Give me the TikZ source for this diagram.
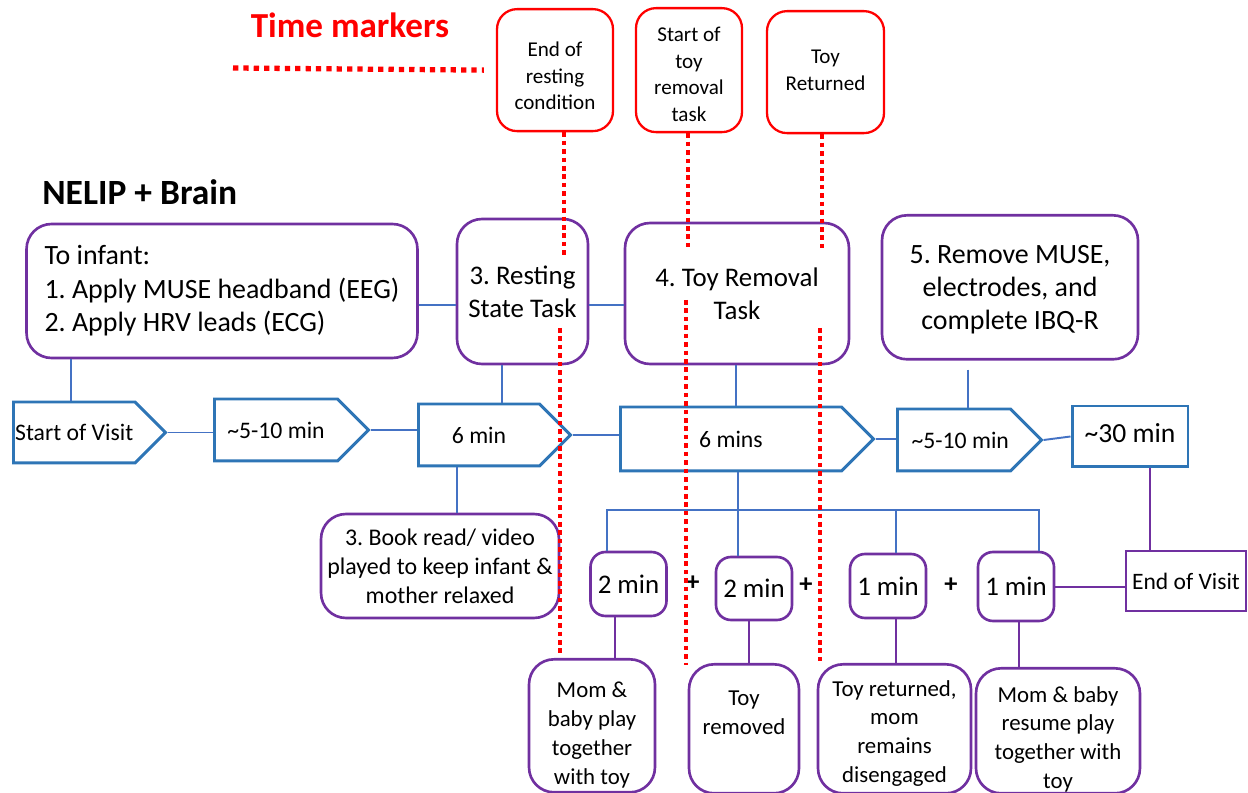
\documentclass[tikz,border=0pt]{standalone}
\usepackage{fontspec}
\setmainfont{Carlito}
\usepackage{xcolor}
\usetikzlibrary{shapes,shapes.symbols,positioning,calc}

\definecolor{stageblue}{RGB}{46,117,182}
\definecolor{linkblue}{RGB}{68,114,196}
\definecolor{taskpurple}{RGB}{112,48,160}
\definecolor{markred}{RGB}{255,0,0}

\frenchspacing
\newcommand{\fsz}[2]{\fontsize{#1}{#2}\selectfont}
% width, height, top gap, text
\newcommand{\droptext}[4]{\parbox[c][#2][t]{#1}{\centering\vspace*{#3}#4}}

\begin{document}
\begin{tikzpicture}[x=0.02cm, y=-0.02cm, >=stealth,
    stage/.style={draw=stageblue, line width=1.7pt, signal, signal to=east, signal from=nowhere, signal pointer angle=90, anchor=west, inner sep=0pt, font=\fsz{13.5}{16}},
    task/.style={draw=taskpurple, line width=1.5pt, rectangle, rounded corners=0.5cm, align=center, inner sep=0pt, font=\fsz{15.3}{18.6}},
    slot/.style={draw=taskpurple, line width=1.5pt, rectangle, rounded corners=0.3cm, inner sep=0pt, minimum width=1.52cm, font=\fsz{15.3}{18}},
    drop/.style={draw=taskpurple, line width=1.5pt, rectangle, rounded corners=0.5cm, anchor=north, inner sep=0pt, font=\fsz{13}{16.4}},
    marker/.style={draw=markred, line width=1.3pt, rectangle, rounded corners=0.4cm, anchor=north, inner sep=0pt, font=\fsz{12}{15.1}},
    bline/.style={draw=linkblue, line width=1.1pt},
    pline/.style={draw=taskpurple, line width=1.5pt},
    mdots/.style={draw=markred, line width=2.6pt, dash pattern=on 2.6pt off 2.2pt},
    plus/.style={font=\fsz{15}{18}\bfseries, inner sep=0pt}]
    \useasboundingbox (0,0) rectangle (1248,793);
    \clip (0,0) rectangle (1248,793);

    % headings
    \node [anchor=base, inner sep=0pt, text=markred, font=\fsz{20}{24}\bfseries] (tmtitle) at (350,38) {Time markers};
    \node [anchor=base west, inner sep=0pt, font=\fsz{20.2}{24}\bfseries] (title) at (42,205) {NELIP + Brain};

    % time markers
    \node [marker] (m1) at (555,8) {\droptext{2.32cm}{2.44cm}{0.66cm}{End of\\resting\\condition}};
    \node [marker] (m2) at (689,7) {\droptext{2.12cm}{2.48cm}{0.38cm}{Start of\\toy\\removal\\task}};
    \node [marker] (m3) at (825.5,10) {\droptext{2.34cm}{2.44cm}{0.78cm}{Toy\\Returned}};

    % tasks
    \node [task, align=left, minimum width=7.82cm, minimum height=2.68cm, font=\fsz{15.9}{19}] (infant) at (222,291) {To infant:\\1. Apply MUSE headband (EEG)\\2. Apply HRV leads (ECG)};
    \node [task, minimum width=2.62cm, minimum height=2.9cm] (rest) at (522.5,291.5) {3. Resting\\State Task};
    \node [task, minimum width=4.48cm, minimum height=2.82cm] (toyrem) at (737,293.5) {4. Toy Removal\\Task};
    \node [task, anchor=north, font=\fsz{15.9}{18.7}] (rem5) at (1010,214) {\droptext{5.12cm}{2.88cm}{0.6cm}{5. Remove MUSE,\\electrodes, and\\complete IBQ-R}};

    % timeline
    \node [stage, minimum width=3.04cm, minimum height=1.22cm] (p1) at (12,432.5) {Start of Visit};
    \node [stage, minimum width=3.08cm, minimum height=1.24cm] (p2) at (213,430) {\textasciitilde 5-10 min};
    \node [stage, minimum width=3.04cm, minimum height=1.24cm] (p3) at (417,435) {6 min};
    \node [stage, minimum width=5.06cm, minimum height=1.28cm] (p4) at (619,439) {6 mins};
    \node [stage, minimum width=2.88cm, minimum height=1.24cm] (p5) at (896,440) {\hspace*{0.25cm}\textasciitilde 5-10 min};
    \node [draw=stageblue, line width=1.7pt, rectangle, inner sep=0pt, minimum width=2.32cm, minimum height=1.22cm, font=\fsz{15.7}{18}] (r30) at (1130,436.5) {\raisebox{0.12cm}{\textasciitilde 30 min}};

    % sub-steps
    \node [task, minimum width=4.76cm, minimum height=2.08cm, font=\fsz{13.6}{16.4}] (book) at (440,566) {3. Book read/ video\\played to keep infant \&\\mother relaxed};
    \node [slot, minimum height=1.28cm] (two1) at (628.5,584) {2 min};
    \node [slot, minimum height=1.26cm] (two2) at (754,588.5) {2 min};
    \node [slot, minimum height=1.28cm] (one1) at (888,586) {1 min};
    \node [slot, minimum height=1.38cm] (one2) at (1016,586.5) {1 min};
    \node [plus] (plus1) at (693,583) {+};
    \node [plus] (plus2) at (806,585) {+};
    \node [plus] (plus3) at (951,585) {+};
    \node [draw=taskpurple, line width=1.5pt, rectangle, inner sep=0pt, minimum width=2.4cm, minimum height=1.2cm, font=\fsz{13.4}{16}] (endv) at (1186,581) {End of Visit};

    \node [drop] (mom) at (592,658) {\droptext{2.52cm}{2.66cm}{0.46cm}{Mom \&\\baby play\\together\\with toy}};
    \node [drop] (toyout) at (744,663) {\droptext{2.2cm}{2.58cm}{0.54cm}{Toy\\removed}};
    \node [drop] (toyret) at (894.5,663) {\droptext{3.06cm}{2.58cm}{0.32cm}{Toy returned,\\mom\\remains\\disengaged}};
    \node [drop] (resume) at (1058,667) {\droptext{3.28cm}{2.5cm}{0.36cm}{Mom \& baby\\resume play\\together with\\toy}};

    % blue links
    \draw [bline] (infant.east |- 0,305) -- (rest.west |- 0,305);
    \draw [bline] (rest.east |- 0,305) -- (toyrem.west |- 0,305);
    \draw [bline] (infant.south -| 71,0) -- (p1.north -| 71,0);
    \draw [bline] (rest.south -| 502,0) -- (p3.north -| 502,0);
    \draw [bline] (toyrem.south -| 736,0) -- (p4.north -| 736,0);
    \draw [bline, shorten <=0.18cm] (rem5.south -| 968,0) -- (p5.north -| 968,0);
    \draw [bline] (p1.east) -- (p2.west |- p1.east);
    \draw [bline] (p2.east) -- (p3.west |- p2.east);
    \draw [bline] (p3.east) -- (p4.west |- p3.east);
    \draw [bline] (p4.east) -- (p5.west |- p4.east);
    \draw [bline] (p5.east) -- (r30.west);
    \draw [bline] (p3.south -| 457,0) -- (book.north -| 457,0);
    \coordinate (brkL) at (607,510);
    \coordinate (brkR) at (1039,510);
    \draw [bline] (two1.north -| brkL) |- (brkR) -- (one2.north -| brkR);
    \draw [bline] (p4.south -| 738,0) -- (two2.north -| 738,0);
    \draw [bline] (one1.north -| 896,0) -- (brkL -| 896,0);

    % purple links
    \draw [pline] (two1.south -| 615,0) -- (mom.north -| 615,0);
    \draw [pline] (two2.south -| 749,0) -- (toyout.north -| 749,0);
    \draw [pline] (one1.south -| 896,0) -- (toyret.north -| 896,0);
    \draw [pline] (one2.south -| 1019,0) -- (resume.north -| 1019,0);
    \draw [pline] (one2.east |- 0,587) -- (endv.west |- 0,587);
    \draw [pline] (r30.south -| 1150,0) -- (endv.north -| 1150,0);

    % marker lines
    \draw [mdots, line width=3pt, dash pattern=on 3pt off 2.9pt] (233,68) -- ($(m1.west)+(-12,0)$);
    \draw [mdots] (m1.south -| 564,0) -- (564,258);
    \draw [mdots] (560,328) -- (560,655);
    \draw [mdots] (m2.south -| 688,0) -- (688,248);
    \draw [mdots] (686,300) -- (686,665);
    \draw [mdots] (m3.south -| 822,0) -- (822,252);
    \draw [mdots] (820,328) -- (820,663);
\end{tikzpicture}
\end{document}
